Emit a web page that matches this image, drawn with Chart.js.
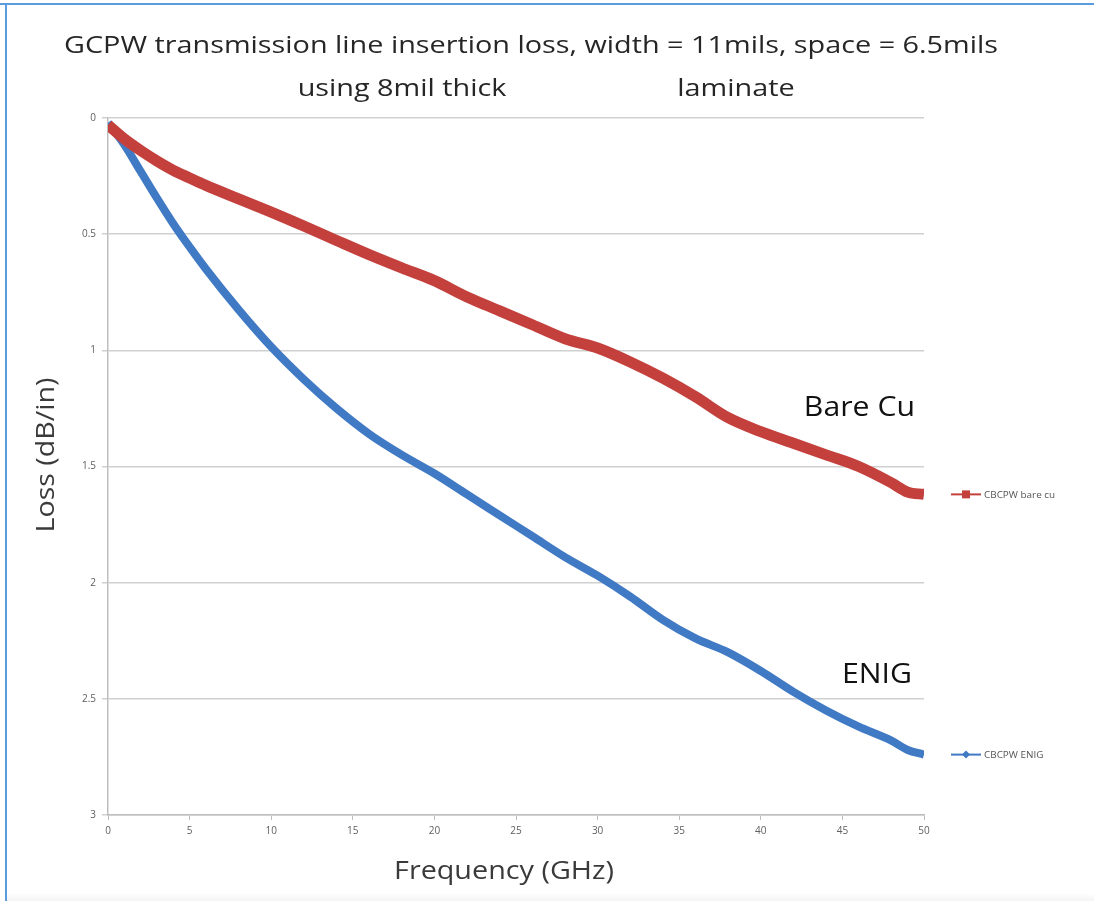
<!DOCTYPE html>
<html lang="en">
<head>
<meta charset="UTF-8">
<title>GCPW insertion loss</title>
<script src="https://cdn.jsdelivr.net/npm/chart.js"></script>
<style>
  body { margin: 0; background: #fff; }
  .quadro { position: relative; width: 1094px; height: 901px; }
  .borda-topo { position: absolute; left: 0; top: 3px; width: 1094px; height: 2px; background: #5b9be0; }
  .borda-esq { position: absolute; left: 5px; top: 3px; width: 2px; height: 898px; background: #5b9be0; }
  .rodape { position: absolute; left: 7px; top: 893px; width: 1087px; height: 8px; background: linear-gradient(#fff, #f4f4f4); }
</style>
</head>
<body>
<div class="quadro">
  <canvas id="grafico"></canvas>
  <div class="borda-topo"></div>
  <div class="borda-esq"></div>
  <div class="rodape"></div>
</div>
<script>
// frequency (GHz)
const freq = [0, 1, 2, 3, 4, 5, 6, 8, 10, 12, 14, 16, 18, 20, 22, 24, 26, 28, 30, 32, 34, 36, 38, 40, 42, 44, 46, 48, 49, 50];
// loss (dB/in)
const bareCu = [0.03, 0.09, 0.14, 0.185, 0.225, 0.258, 0.29, 0.348, 0.405, 0.465, 0.527, 0.588, 0.645, 0.70, 0.77, 0.83, 0.89, 0.95, 0.99, 1.05, 1.12, 1.20, 1.29, 1.35, 1.40, 1.45, 1.50, 1.57, 1.61, 1.62];
const enig = [0.02, 0.115, 0.23, 0.345, 0.455, 0.555, 0.65, 0.825, 0.985, 1.125, 1.25, 1.36, 1.45, 1.53, 1.62, 1.71, 1.80, 1.89, 1.97, 2.06, 2.16, 2.24, 2.30, 2.38, 2.47, 2.55, 2.62, 2.68, 2.72, 2.74];

const tituloLinha1 = 'GCPW transmission line insertion loss, width = 11mils, space = 6.5mils';
const tituloLinha2a = 'using 8mil thick';
const tituloLinha2b = 'laminate';
const tituloX = 'Frequency (GHz)';
const tituloY = 'Loss (dB/in)';
const nomesLegenda = ['CBCPW bare cu', 'CBCPW ENIG'];
const rotulos = ['Bare Cu', 'ENIG'];

const vermelho = '#c4403d';
const azul = '#4079c4';

function pontos(xs, ys) {
    return xs.map((x, i) => ({ x: x, y: ys[i] }));
}

// texto um pouco esticado na horizontal (a fonte original e mais larga)
function escrever(ctx, texto, x, y, esticar, alinhar) {
    ctx.save();
    ctx.translate(x, y);
    ctx.scale(esticar, 1);
    ctx.textAlign = alinhar || 'center';
    ctx.fillText(texto, 0, 0);
    ctx.restore();
}

// titulo, titulos dos eixos, rotulos das curvas e legenda lateral
const textos = {
    id: 'textos',
    afterDraw(chart) {
        const ctx = chart.ctx;
        const area = chart.chartArea;
        const ys = chart.scales.y;
        ctx.save();
        ctx.textBaseline = 'middle';

        ctx.fillStyle = '#262626';
        ctx.font = '24px "Open Sans"';
        escrever(ctx, tituloLinha1, 531, 46, 1.2);
        escrever(ctx, tituloLinha2a, 402, 89, 1.2);
        escrever(ctx, tituloLinha2b, 736, 89, 1.2);

        ctx.fillStyle = '#3a3a3a';
        ctx.font = '25px "Open Sans"';
        escrever(ctx, tituloX, 504, 872, 1.15);

        ctx.save();
        ctx.translate(47, 455);
        ctx.rotate(-Math.PI / 2);
        ctx.font = '26px "Open Sans"';
        escrever(ctx, tituloY, 0, 0, 1.1);
        ctx.restore();

        ctx.fillStyle = '#111';
        ctx.font = '27px "Open Sans"';
        escrever(ctx, rotulos[0], area.right - 9, 408, 1.12, 'right');
        escrever(ctx, rotulos[1], area.right - 12, 675, 1.12, 'right');

        // legenda
        const cores = [vermelho, azul];
        const ultimos = [bareCu[bareCu.length - 1], enig[enig.length - 1]];
        ctx.font = '9px "Open Sans"';
        ctx.textAlign = 'left';
        for (let i = 0; i < 2; i++) {
            const y = ys.getPixelForValue(ultimos[i]);
            const x0 = area.right + 27;
            ctx.strokeStyle = cores[i];
            ctx.lineWidth = 2;
            ctx.beginPath();
            ctx.moveTo(x0, y);
            ctx.lineTo(x0 + 30, y);
            ctx.stroke();
            ctx.fillStyle = cores[i];
            if (i == 0) {
                ctx.fillRect(x0 + 11, y - 4, 8, 8);
            } else {
                ctx.beginPath();
                ctx.moveTo(x0 + 15, y - 4);
                ctx.lineTo(x0 + 19, y);
                ctx.lineTo(x0 + 15, y + 4);
                ctx.lineTo(x0 + 11, y);
                ctx.closePath();
                ctx.fill();
            }
            ctx.fillStyle = '#555';
            escrever(ctx, nomesLegenda[i], x0 + 33, y + 1, 1.1, 'left');
        }
        ctx.restore();
    }
};

new Chart(document.getElementById('grafico'), {
    type: 'line',
    data: {
        datasets: [{
            label: nomesLegenda[0],
            data: pontos(freq, bareCu),
            borderColor: vermelho,
            borderWidth: 11,
            pointRadius: 0,
            cubicInterpolationMode: 'monotone',
            borderCapStyle: 'butt',
            fill: false
        }, {
            label: nomesLegenda[1],
            data: pontos(freq, enig),
            borderColor: azul,
            borderWidth: 8,
            pointRadius: 0,
            cubicInterpolationMode: 'monotone',
            fill: false
        }]
    },
    options: {
        responsive: true,
        maintainAspectRatio: false,
        animation: false,
        layout: { padding: { left: 28, right: 170, top: 118, bottom: 11 } },
        plugins: {
            legend: { display: false },
            title: { display: false },
            tooltip: { enabled: false }
        },
        scales: {
            x: {
                type: 'linear',
                min: 0,
                max: 50,
                ticks: { stepSize: 5, color: '#606060', font: { size: 10, family: '"Open Sans"' }, padding: 5 },
                grid: { drawOnChartArea: false, color: '#bdbdbd', tickLength: 5 },
                border: { color: '#bdbdbd', width: 1.5 },
                afterFit(scale) { scale.height = 75; }
            },
            y: {
                min: 0,
                max: 3,
                reverse: true,
                ticks: {
                    stepSize: 0.5,
                    color: '#606060',
                    font: { size: 10, family: '"Open Sans"' },
                    padding: 6,
                    callback: (v) => String(v)
                },
                grid: { color: '#d0d0d0', tickLength: 6, lineWidth: 1.5 },
                border: { color: '#bdbdbd', width: 1.5 },
                afterFit(scale) { scale.width = 80; }
            }
        }
    },
    plugins: [textos]
});
</script>
</body>
</html>
